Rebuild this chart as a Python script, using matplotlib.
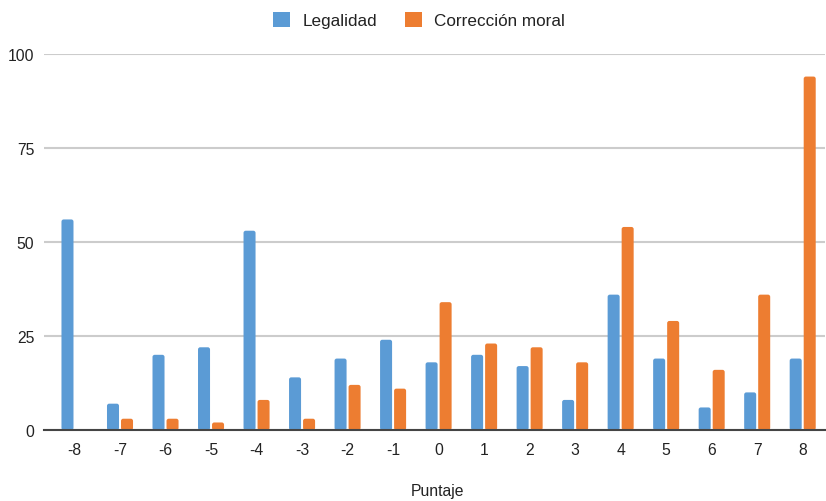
import matplotlib
matplotlib.use("Agg")
import matplotlib.pyplot as plt
from matplotlib.patches import FancyBboxPatch, Patch
import numpy as np

categories = ["-8", "-7", "-6", "-5", "-4", "-3", "-2", "-1", "0", "1", "2", "3", "4", "5", "6", "7", "8"]
legalidad = [56, 7, 20, 22, 53, 14, 19, 24, 18, 20, 17, 8, 36, 19, 6, 10, 19]
correccion = [0, 3, 3, 2, 8, 3, 12, 11, 34, 23, 22, 18, 54, 29, 16, 36, 94]
series_names = ["Legalidad", "Corrección moral"]
y_ticks = [0, 25, 50, 75, 100]
x_title = "Puntaje"

plt.rcParams['font.family'] = ['Liberation Sans', 'DejaVu Sans']

W, H = 826, 502
fig = plt.figure(figsize=(W / 100, H / 100), dpi=100)
ax = fig.add_axes([44 / W, (H - 431) / H, (825 - 44) / W, (431 - 55) / H])

blue = "#5B9BD5"
orange = "#ED7D31"
colors = [blue, orange]
x = np.arange(len(categories))
bw = 0.264
off = 0.154
xlim = (-0.67, len(categories) - 1 + 0.49)
ylim = (0, 100)
ax.set_xlim(*xlim)
ax.set_ylim(*ylim)

bars1 = ax.bar(x - off, legalidad, bw, color=blue, zorder=3)
bars2 = ax.bar(x + off, correccion, bw, color=orange, zorder=3)

# rounded tops: replace rectangles with rounded boxes of identical extent
px_x = (xlim[1] - xlim[0]) / (825 - 44)
px_y = (ylim[1] - ylim[0]) / (431 - 55)
for bars in (bars1, bars2):
    for r in bars:
        r.set_visible(False)
        h = r.get_height()
        if h <= 0:
            continue
        fb = FancyBboxPatch((r.get_x(), 0), r.get_width(), h,
                            boxstyle="round,pad=0,rounding_size=%f" % (2.2 * px_x),
                            mutation_aspect=px_y / px_x,
                            facecolor=r.get_facecolor(), edgecolor="none", zorder=3)
        ax.add_patch(fb)

ax.set_yticks(y_ticks)
ax.set_xticks(x)
ax.set_xticklabels(categories)
ax.yaxis.grid(True, color="#cccccc", linewidth=1.5, zorder=0)
ax.set_axisbelow(True)
for s in ["top", "right", "left"]:
    ax.spines[s].set_visible(False)
ax.spines["bottom"].set_color("#444444")
ax.spines["bottom"].set_linewidth(1.5)
ax.spines["bottom"].set_zorder(4)
ax.tick_params(axis="both", length=0, labelsize=11.3, colors="#222222")
ax.tick_params(axis="x", pad=8.5)
ax.tick_params(axis="y", pad=7)
fig.text(438 / W, 1 - 492 / H, x_title, fontsize=11.3, color="#222222",
         ha="center", va="center")

handles = [Patch(facecolor=c, edgecolor="none") for c in colors]
fig.legend(handles, series_names, loc="upper center", bbox_to_anchor=(0.5 + 6 / W, 1.0 + 1 / H),
           ncol=2, frameon=False, fontsize=12.3, handlelength=1.0, handleheight=1.0,
           columnspacing=1.6, handletextpad=0.75, labelcolor="#222222", borderaxespad=0.4)

fig.savefig("out.png", dpi=100)
